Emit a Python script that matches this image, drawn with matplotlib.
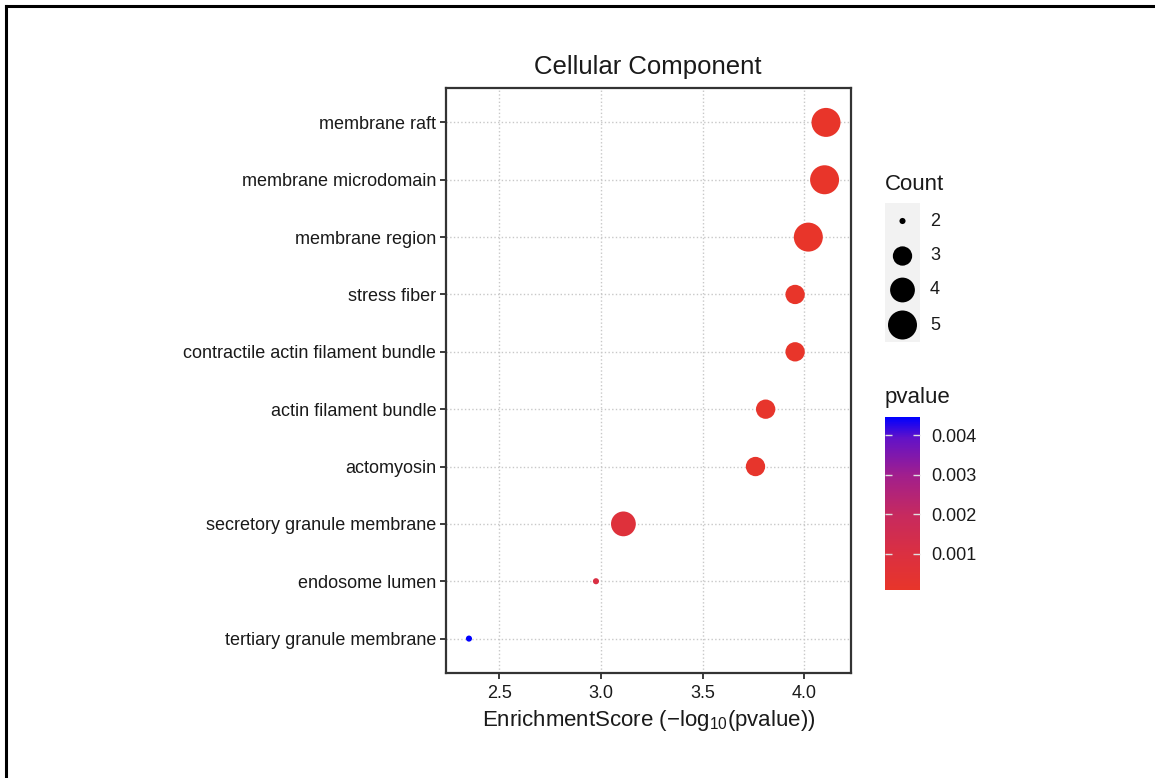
import numpy as np
import matplotlib
matplotlib.use('Agg')
import matplotlib.pyplot as plt
from matplotlib.colors import LinearSegmentedColormap, Normalize
from matplotlib.lines import Line2D

plt.rcParams['font.family'] = ['Liberation Sans', 'DejaVu Sans']
plt.rcParams['mathtext.fontset'] = 'custom'
plt.rcParams['mathtext.rm'] = 'Liberation Sans'

# data (bottom to top)
terms = ['tertiary granule membrane', 'endosome lumen', 'secretory granule membrane',
         'actomyosin', 'actin filament bundle', 'contractile actin filament bundle',
         'stress fiber', 'membrane region', 'membrane microdomain', 'membrane raft']
scores = [2.35, 2.975, 3.11, 3.76, 3.81, 3.955, 3.955, 4.02, 4.10, 4.107]
counts = [2, 2, 4, 3, 3, 3, 3, 5, 5, 5]
legend_counts = [2, 3, 4, 5]
cbar_ticks = [0.001, 0.002, 0.003, 0.004]

pvalues = [10 ** (-s) for s in scores]

W, H = 1155, 778
text_col = '#1A1A1A'

# red -> blue gradient like ggplot
cmap = LinearSegmentedColormap.from_list('pv', [
    (0.0, '#E8352A'), (0.2, '#DB3040'), (0.43, '#C72A5E'),
    (0.66, '#A21F8C'), (0.88, '#6212C8'), (1.0, '#0000FF')])
norm = Normalize(vmin=min(pvalues), vmax=max(pvalues))


def size_of(c):
    # ggplot area scale (range 1..6) plus stroke, scaled to pixels
    gg_size = 1 + 5 * np.sqrt((c - 2) / 3.0)
    d_px = 1.61 * (gg_size * 2.845 + 0.945)
    return (d_px * 0.72) ** 2


fig = plt.figure(figsize=(W / 100, H / 100), dpi=100)
ax = fig.add_axes([446 / W, 1 - 673 / H, (851 - 446) / W, (673 - 88) / H])

y = np.arange(len(terms))
ax.scatter(scores, y, s=[size_of(c) for c in counts], c=pvalues, cmap=cmap, norm=norm,
           linewidths=0, zorder=3)

ax.set_xlim(2.237, 4.23)
ax.set_ylim(-0.6, len(terms) - 0.4)
ax.set_xticks([2.5, 3.0, 3.5, 4.0])
ax.set_xticklabels(['2.5', '3.0', '3.5', '4.0'])
ax.set_yticks(y)
ax.set_yticklabels(terms)
ax.tick_params(labelsize=13, colors=text_col, length=4, width=1.2, pad=3)
ax.tick_params(axis='x', pad=5)
ax.grid(True, color='#C8C8C8', linestyle=':', linewidth=1.0, zorder=0)
ax.set_axisbelow(True)
for sp in ax.spines.values():
    sp.set_color('#333333')
    sp.set_linewidth(1.6)

ax.set_xlabel('EnrichmentScore (\u2212log$_{10}$(pvalue))', fontsize=16, color=text_col, labelpad=4)
fig.text(648 / W, 1 - 67 / H, 'Cellular Component', fontsize=18.5, color=text_col,
         ha='center', va='center')

# size legend
fig.text(885 / W, 1 - 184 / H, 'Count', fontsize=16, color=text_col, ha='left', va='center')
lax = fig.add_axes([885 / W, 1 - 342 / H, 35 / W, (342 - 203) / H])
lax.set_facecolor('#F2F2F2')
lax.set_xlim(0, 1)
lax.set_ylim(342, 203)
key_y = [221, 256, 290, 325]
lax.scatter([0.5] * len(legend_counts), key_y, s=[size_of(c) for c in legend_counts],
            color='black', linewidths=0)
for c, ky in zip(legend_counts, key_y):
    fig.text(930 / W, 1 - ky / H, str(c), fontsize=13, color=text_col, ha='left', va='center')
lax.set_xticks([])
lax.set_yticks([])
for sp in lax.spines.values():
    sp.set_visible(False)

# colour bar
fig.text(885 / W, 1 - 398 / H, 'pvalue', fontsize=16, color=text_col, ha='left', va='center')
cax = fig.add_axes([885 / W, 1 - 590 / H, 35 / W, (590 - 417) / H])
sm = plt.cm.ScalarMappable(norm=norm, cmap=cmap)
cb = fig.colorbar(sm, cax=cax, ticks=cbar_ticks)
cb.outline.set_visible(False)
cb.ax.set_yticklabels(['0.001', '0.002', '0.003', '0.004'])
cax.tick_params(axis='y', direction='in', color='#E0E0E0', length=5, width=1,
                left=True, right=True, labelsize=13, labelcolor=text_col, pad=8)

# outer frame
fig.add_artist(Line2D([6 / W, 6 / W], [0, 1 - 6 / H], transform=fig.transFigure,
                      color='black', linewidth=2.2))
fig.add_artist(Line2D([6 / W, 1], [1 - 6 / H, 1 - 6 / H], transform=fig.transFigure,
                      color='black', linewidth=2.2))

fig.savefig('out.png', dpi=100)
